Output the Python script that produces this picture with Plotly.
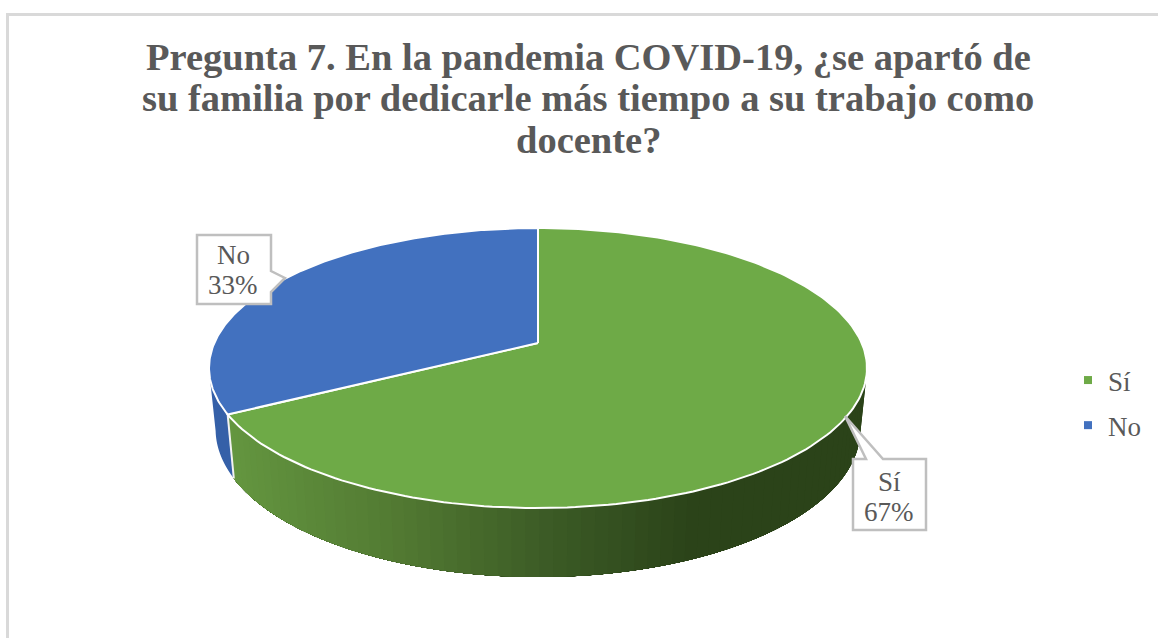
"""
Pregunta 7: 3D looking pie chart
"""
import numpy as np
import plotly.graph_objects as go

categories = ["Sí", "No"]
values = [67, 33]
colors = ["#6EAA47", "#4271BF"]
side_no = "#3560A8"
title_lines = [
    "Pregunta 7. En la pandemia COVID-19, ¿se apartó de",
    "su familia por dedicarle más tiempo a su trabajo como",
    "docente?",
]

FONT = "Liberation Serif"
GREY = "#595959"

# tilted disc, drawn on axes that run in page pixels
CX, CY = 538, 343
K, A, C = 0.1786, -74.3, 323.7
SCALE_LOW = 0.98


def top_rim(theta):
    u, v = np.sin(theta), np.cos(theta)
    d = 1 + K * v
    return CX + C * u / d, (A * v + CY) / d


def low_rim(theta):
    x, y = top_rim(theta)
    return CX + SCALE_LOW * (x - CX), y + 59.4 - 9.6 * np.cos(theta)


def green_side(x):
    # shading of the side wall, left to right
    xs = [230, 400, 550, 700, 880]
    r = np.interp(x, xs, [100, 82, 60, 43, 43])
    g = np.interp(x, xs, [150, 122, 92, 67, 67])
    b = np.interp(x, xs, [64, 50, 38, 25, 25])
    return f"rgb({r:.0f},{g:.0f},{b:.0f})"


fig = go.Figure()

split = 2 * np.pi * values[0] / sum(values)
left_edge = np.radians(259)
right_edge = np.radians(100)

# side wall, green part: each band runs on to the far end so no seams show
edges = np.linspace(right_edge, split, 70)
for t0 in edges[:-1]:
    t = np.linspace(t0, split, 80)
    xt, yt = top_rim(t)
    xl, yl = low_rim(t)
    col = green_side(xt[0])
    fig.add_trace(go.Scatter(x=np.r_[xt, xl[::-1]], y=np.r_[yt, yl[::-1]], fill="toself",
                             fillcolor=col, mode="none",
                             hoverinfo="skip", showlegend=False))

# side wall, blue part
t = np.linspace(split, left_edge, 20)
xt, yt = top_rim(t)
xl, yl = low_rim(t)
fig.add_trace(go.Scatter(x=np.r_[xt, xl[::-1]], y=np.r_[yt, yl[::-1]], fill="toself",
                         fillcolor=side_no, mode="none",
                         hoverinfo="skip", showlegend=False))

# white seam between the two wall parts
fig.add_trace(go.Scatter(x=[top_rim(split)[0], low_rim(split)[0]],
                         y=[top_rim(split)[1], low_rim(split)[1]],
                         mode="lines", line=dict(color="#f2f2f2", width=2),
                         hoverinfo="skip", showlegend=False))

# top face
start = 0
for cat, val, col in zip(categories, values, colors):
    end = start + 2 * np.pi * val / sum(values)
    t = np.linspace(start, end, 200)
    x, y = top_rim(t)
    fig.add_trace(go.Scatter(x=np.r_[CX, x, CX], y=np.r_[CY, y, CY], fill="toself",
                             fillcolor=col, mode="lines", line=dict(color="white", width=2),
                             hoverinfo="skip", showlegend=False))
    start = end

# legend entries
for cat, col in zip(categories, colors):
    fig.add_trace(go.Scatter(x=[None], y=[None], mode="markers", name=cat, legendgroup=cat,
                             marker=dict(color=col, size=8, symbol="square")))

# callouts
callouts = [
    "M 197 235 H 271 V 271 L 285 278 L 271 292 V 304 H 197 Z",
    "M 853 459 H 866 L 845 416 L 883 459 H 926 V 530 H 853 Z",
]
for path in callouts:
    fig.add_shape(type="path", path=path, fillcolor="white",
                  line=dict(color="#bfbfbf", width=2.5), layer="above")

label_pos = [(889, 482), (233, 255)]
for cat, val, (lx, ly) in zip(categories, values, label_pos):
    fig.add_annotation(x=lx, y=ly, text=cat, showarrow=False,
                       font=dict(family=FONT, size=27, color=GREY))
    fig.add_annotation(x=lx, y=ly + 30, text=f"{val}%", showarrow=False,
                       font=dict(family=FONT, size=27, color=GREY))

title_y = [57, 98, 140]
for line, ly in zip(title_lines, title_y):
    fig.add_annotation(x=588, y=ly, text=f"<b>{line}</b>", showarrow=False,
                       font=dict(family=FONT, size=38.5, color=GREY))

# outer frame, only the top and left side are in the picture
fig.add_shape(type="rect", x0=7.5, y0=14.5, x1=1300, y1=800,
              line=dict(color="#d9d9d9", width=3), layer="below")

fig.update_layout(
    width=1158, height=638, margin=dict(l=0, r=0, t=0, b=0),
    paper_bgcolor="white", plot_bgcolor="white",
    xaxis=dict(range=[0, 1158], visible=False, fixedrange=True),
    yaxis=dict(range=[638, 0], visible=False, fixedrange=True),
    legend=dict(x=1068 / 1158, y=1 - 356 / 638, xanchor="left", yanchor="top",
                font=dict(family=FONT, size=27, color=GREY), tracegroupgap=7,
                traceorder="grouped", itemwidth=30, bgcolor="rgba(0,0,0,0)"),
)

fig.write_html("out.html", config=dict(displayModeBar=False),
               post_script="document.body.style.margin = '0';")
